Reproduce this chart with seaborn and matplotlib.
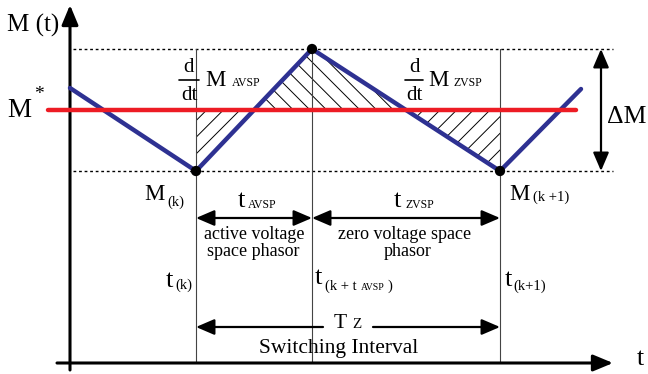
import numpy as np
import matplotlib
matplotlib.use("Agg")
import matplotlib.pyplot as plt
import seaborn as sns

# ---- data (diagram units: horizontal = time position, vertical = M position, downwards) ----
wave_t = [70, 196, 312, 500, 581]          # switching-interval triangle wave, time points
wave_m = [88, 171, 49, 171, 89]            # M(t) at those points
knot_t = [196, 312, 500]                   # marked points t(k), t(k+tAVSP), t(k+1)
knot_m = [171, 49, 171]
mref_t = [48, 576]                         # reference M* line extent
mref_m = 110                               # M*
m_top, m_bot = 49, 171                     # M envelope (dotted)
env_t = [73, 613]

sns.set_theme(style="white")
plt.rcParams['font.family'] = ['Liberation Serif', 'DejaVu Serif']
plt.rcParams['hatch.linewidth'] = 0.7

fig = plt.figure(figsize=(6.48, 3.74), dpi=100)
ax = fig.add_axes([0, 0, 1, 1])
ax.set_xlim(0, 648)
ax.set_ylim(374, 0)
ax.axis('off')

BLUE = '#2E3192'
RED = '#ED1C24'

# envelope dotted lines
for m in (m_top, m_bot):
    ax.plot(env_t, [m, m], color='black', lw=1.0, ls=(0, (2.0, 2.0)), zorder=2)

# vertical interval lines
for t in knot_t:
    ax.plot([t, t], [m_top, 363], color='#444444', lw=0.8, zorder=2)

# hatched areas between M(t) and M*
x_up = np.interp(mref_m, [wave_m[2], wave_m[1]], [wave_t[2], wave_t[1]])
x_dn = np.interp(mref_m, [wave_m[2], wave_m[3]], [wave_t[2], wave_t[3]])
ax.fill([wave_t[1], x_up, wave_t[1]], [mref_m, mref_m, wave_m[1]],
        facecolor='none', edgecolor='black', hatch='//', lw=0, zorder=1)
ax.fill([x_up, wave_t[2], x_dn], [mref_m, wave_m[2], mref_m],
        facecolor='none', edgecolor='black', hatch='\\\\', lw=0, zorder=1)
ax.fill([x_dn, wave_t[3], wave_t[3]], [mref_m, mref_m, wave_m[3]],
        facecolor='none', edgecolor='black', hatch='//', lw=0, zorder=1)

# M(t) wave and M*
sns.lineplot(x=wave_t, y=wave_m, ax=ax, color=BLUE, lw=3.2, sort=False,
             estimator=None, zorder=4)
sns.lineplot(x=mref_t, y=[mref_m, mref_m], ax=ax, color=RED, lw=3.2,
             sort=False, estimator=None, zorder=5)
sns.scatterplot(x=knot_t, y=knot_m, ax=ax, color='black', s=55,
                edgecolor='none', zorder=6)

# axes arrows
ax.annotate('', xy=(70, 5), xytext=(70, 370),
            arrowprops=dict(arrowstyle='-|>,head_length=0.6,head_width=0.25',
                            color='black', lw=2.2,
                            mutation_scale=20, shrinkA=0, shrinkB=0))
ax.annotate('', xy=(613, 363), xytext=(57, 363),
            arrowprops=dict(arrowstyle='-|>,head_length=0.6,head_width=0.25',
                            color='black', lw=2.2,
                            mutation_scale=20, shrinkA=0, shrinkB=0))

def darrow(p0, p1, style='<|-|>,head_length=0.7,head_width=0.3'):
    ax.annotate('', xy=p1, xytext=p0,
                arrowprops=dict(arrowstyle=style, color='black', lw=1.6,
                                mutation_scale=16, shrinkA=0, shrinkB=0))

darrow((196, 218), (312, 218))
darrow((312, 218), (500, 218))
darrow((601, 49), (601, 171))
darrow((323, 327), (196, 327), '-|>,head_length=0.7,head_width=0.3')
darrow((373, 327), (500, 327), '-|>,head_length=0.7,head_width=0.3')

def txt(x, y, s, size, ha='left', va='baseline'):
    ax.text(x, y, s, fontsize=size, ha=ha, va=va, color='black', zorder=7)

# labels
txt(7, 32, 'M (t)', 18)
txt(7, 117, 'M', 19.5)
txt(39, 94, '*', 14, ha='center', va='center')
txt(607, 123, 'ΔM', 18.5)
txt(637, 365, 't', 18.5)

# d/dt M_AVSP
txt(189, 72, 'd', 15, ha='center')
ax.plot([179, 199], [80, 80], color='black', lw=1.2)
txt(189, 100, 'dt', 15, ha='center')
txt(205, 86, 'M', 16.5)
txt(232, 86, 'AVSP', 8.5)
# d/dt M_ZVSP
txt(414, 72, 'd', 15, ha='center')
ax.plot([405, 423], [80, 80], color='black', lw=1.2)
txt(414, 100, 'dt', 15, ha='center')
txt(428, 86, 'M', 16.5)
txt(454, 86, 'ZVSP', 8.5)

# M(k), M(k+1)
txt(144, 200, 'M', 16.5)
txt(167, 206, '(k)', 10.5)
txt(509, 200, 'M', 16.5)
txt(533, 201, '(k +1)', 10.5)

# t_AVSP, t_ZVSP
txt(238, 207, 't', 19)
txt(248, 208, 'AVSP', 8.5)
txt(394, 207, 't', 19)
txt(406, 208, 'ZVSP', 8.5)

# phasor descriptions
txt(254, 239, 'active voltage', 13, ha='center')
txt(253, 256, 'space phasor', 13, ha='center')
txt(405, 239, 'zero voltage space', 13, ha='center')
txt(408, 256, 'phasor', 13, ha='center')

# time instants
txt(166, 287, 't', 19)
txt(175, 289, '(k)', 10.5)
txt(315, 284, 't', 19)
txt(325, 290, '(k + t', 10.5)
txt(361, 290, 'AVSP', 7)
txt(387, 290, ')', 10.5)
txt(505, 286, 't', 19)
txt(513, 290, '(k+1)', 10.5)

# switching interval
txt(334, 328, 'T', 15.5)
txt(352, 328, 'Z', 11)
txt(339, 353, 'Switching Interval', 15.5, ha='center')

fig.savefig('out.png', dpi=100)
